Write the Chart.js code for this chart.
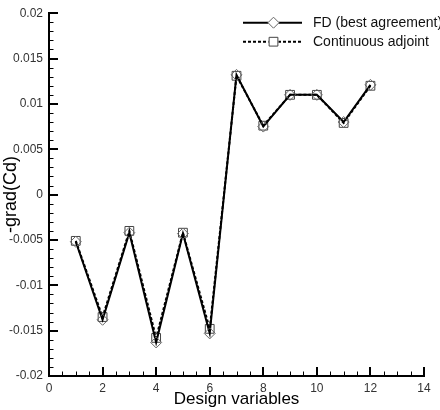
<!DOCTYPE html>
<html>
<head>
<meta charset="utf-8">
<script src="https://cdn.jsdelivr.net/npm/chart.js@4/dist/chart.umd.min.js"></script>
<style>
  html, body { margin: 0; padding: 0; background: #fff; }
  #c { display: block; }
</style>
</head>
<body>
<canvas id="c" width="440" height="410"></canvas>
<script>
// Design variable indices
const designVariables = [1, 2, 3, 4, 5, 6, 7, 8, 9, 10, 11, 12];
// Finite-difference gradient (best agreement step)
const fdGradient = [-0.0052, -0.0138, -0.0042, -0.0163, -0.0043, -0.0153, 0.0132, 0.0075, 0.0110, 0.0110, 0.0080, 0.0121];
// Continuous adjoint gradient
const adjointGradient = [-0.0051, -0.0135, -0.0040, -0.0158, -0.0042, -0.0148, 0.0131, 0.0076, 0.0110, 0.0110, 0.0079, 0.0120];
// Axis ranges and tick steps
const xRange = [0, 14];
const yRange = [-0.02, 0.02];
const xMajorStep = 2, xMinorStep = 0.5;
const yMajorStep = 0.005, yMinorStep = 0.001;

const seriesLabels = ['FD (best agreement)', 'Continuous adjoint'];

const toPoints = (xs, ys) => xs.map((x, i) => ({ x, y: ys[i] }));

const FONT = '"Liberation Sans", Arial, Helvetica, sans-serif';

// Tecplot-style inward tick marks on the left and bottom axes
const inwardTicks = {
  id: 'inwardTicks',
  afterDraw(chart) {
    const { ctx, chartArea, scales: { x, y } } = chart;
    ctx.save();
    ctx.strokeStyle = '#000';
    const nx = Math.round((xRange[1] - xRange[0]) / xMinorStep);
    const perX = Math.round(xMajorStep / xMinorStep);
    for (let i = 0; i <= nx; i++) {
      const px = Math.round(x.getPixelForValue(xRange[0] + i * xMinorStep));
      const major = i % perX === 0;
      ctx.lineWidth = major ? 2 : 1;
      ctx.beginPath();
      ctx.moveTo(px + (major ? 0 : 0.5), chartArea.bottom);
      ctx.lineTo(px + (major ? 0 : 0.5), chartArea.bottom - (major ? 9 : 4.5));
      ctx.stroke();
    }
    const ny = Math.round((yRange[1] - yRange[0]) / yMinorStep);
    const perY = Math.round(yMajorStep / yMinorStep);
    for (let i = 0; i <= ny; i++) {
      const py = Math.round(y.getPixelForValue(yRange[0] + i * yMinorStep));
      const major = i % perY === 0;
      ctx.lineWidth = major ? 2 : 1;
      ctx.beginPath();
      ctx.moveTo(chartArea.left, py + (major ? 0 : 0.5));
      ctx.lineTo(chartArea.left + (major ? 9 : 4.5), py + (major ? 0 : 0.5));
      ctx.stroke();
    }
    ctx.restore();
  }
};

// Legend drawn as line sample with centred marker, in the upper right
const lineLegend = {
  id: 'lineLegend',
  afterDraw(chart) {
    const { ctx } = chart;
    const x0 = 243, x1 = 302, textX = 313;
    const rows = [22.7, 41.7];
    ctx.save();
    chart.data.datasets.forEach((ds, i) => {
      const yy = rows[i];
      ctx.strokeStyle = ds.borderColor;
      ctx.lineWidth = ds.borderWidth;
      ctx.setLineDash(ds.borderDash || []);
      ctx.beginPath();
      ctx.moveTo(x0, yy);
      ctx.lineTo(x1, yy);
      ctx.stroke();
      ctx.setLineDash([]);
      // white behind the marker so the sample line does not cross it
      ctx.fillStyle = '#fff';
      const mx = (x0 + x1) / 2 + 1;
      ctx.fillRect(mx - 5, yy - 5, 10, 10);
      ctx.strokeStyle = ds.pointBorderColor;
      ctx.lineWidth = ds.pointBorderWidth;
      Chart.helpers.drawPoint(ctx, { pointStyle: ds.pointStyle, radius: ds.pointRadius, rotation: 0, borderWidth: ds.pointBorderWidth }, mx, yy);
      ctx.fillStyle = '#111';
      ctx.font = '14px ' + FONT;
      ctx.textBaseline = 'middle';
      ctx.textAlign = 'left';
      ctx.fillText(ds.label, textX, yy);
    });
    ctx.restore();
  }
};

new Chart(document.getElementById('c'), {
  type: 'line',
  data: {
    datasets: [
      {
        label: seriesLabels[0],
        data: toPoints(designVariables, fdGradient),
        borderColor: '#000',
        borderWidth: 2,
        pointStyle: 'rectRot',
        pointRadius: 5.5,
        pointBorderColor: '#666',
        pointBorderWidth: 1,
        pointBackgroundColor: 'rgba(0,0,0,0)',
        tension: 0
      },
      {
        label: seriesLabels[1],
        data: toPoints(designVariables, adjointGradient),
        borderColor: '#000',
        borderWidth: 2,
        borderDash: [3, 2],
        pointStyle: 'rect',
        pointRadius: 6.2,
        pointBorderColor: '#444',
        pointBorderWidth: 1,
        pointBackgroundColor: 'rgba(0,0,0,0)',
        tension: 0
      }
    ]
  },
  options: {
    responsive: false,
    animation: false,
    devicePixelRatio: 1,
    layout: { padding: { top: 13, right: 16, left: 0, bottom: 0 } },
    plugins: { legend: { display: false }, tooltip: { enabled: false } },
    scales: {
      x: {
        type: 'linear',
        min: xRange[0],
        max: xRange[1],
        grid: { display: false, drawTicks: false },
        border: { display: true, color: '#000', width: 2 },
        ticks: {
          stepSize: xMajorStep,
          padding: 5,
          color: '#333',
          font: { family: FONT, size: 12 },
          maxRotation: 0,
          callback: v => String(+v.toFixed(4))
        },
        title: {
          display: true,
          text: 'Design variables',
          color: '#000',
          font: { family: FONT, size: 17 },
          padding: { top: 0, bottom: 0 }
        },
        afterFit: s => { s.height = 34; }
      },
      y: {
        type: 'linear',
        min: yRange[0],
        max: yRange[1],
        grid: { display: false, drawTicks: false },
        border: { display: true, color: '#000', width: 2 },
        ticks: {
          stepSize: yMajorStep,
          padding: 6,
          color: '#333',
          font: { family: FONT, size: 12 },
          callback: v => String(+v.toFixed(4))
        },
        title: {
          display: true,
          text: '-grad(Cd)',
          color: '#000',
          font: { family: FONT, size: 18 },
          padding: { top: 0, bottom: 0 }
        },
        afterFit: s => { s.width = 49; }
      }
    }
  },
  plugins: [inwardTicks, lineLegend]
});
</script>
</body>
</html>
